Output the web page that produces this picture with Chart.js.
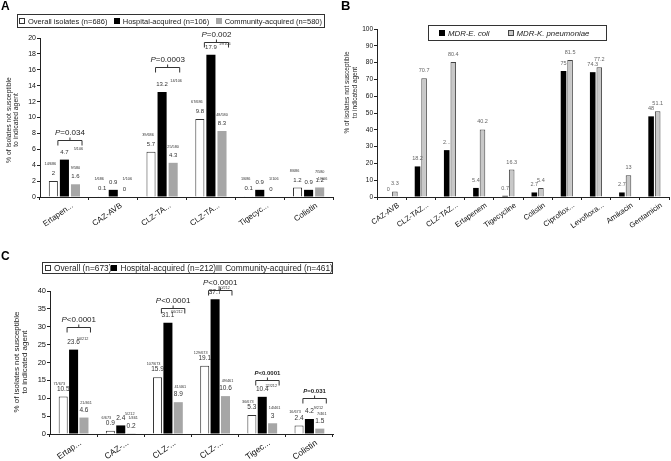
<!DOCTYPE html>
<html>
<head>
<meta charset="utf-8">
<script src="https://cdn.jsdelivr.net/npm/chart.js@4.4.1/dist/chart.umd.min.js"></script>
<style>
  body { margin: 0; background: #fff; }
  #fig { position: relative; width: 671px; height: 461px; overflow: hidden; background: #fff;
         font-family: 'Liberation Sans', Arial, sans-serif; color: #222; }
  #fig canvas, .tag, .key { position: absolute; }
  .tag { font-weight: bold; font-size: 12px; line-height: 12px; color: #000; will-change: transform; }
  .key { box-sizing: border-box; border: 1px solid #333; background: #fff; display: flex;
         align-items: center; white-space: nowrap; will-change: transform; }
  .item { display: inline-flex; align-items: center; }
  .sw { display: inline-block; width: 6px; height: 6px; margin-right: 3px; box-sizing: border-box; }
</style>
</head>
<body>
<div id="fig">
  <div class="tag" style="left:1px;top:0">A</div>
  <div class="tag" style="left:341px;top:0;font-size:13px">B</div>
  <div class="tag" style="left:1px;top:250px">C</div>

  <canvas id="chartA" width="340" height="222" style="left:0;top:28px"></canvas>
  <canvas id="chartB" width="333" height="250" style="left:338px;top:0"></canvas>
  <canvas id="chartC" width="340" height="186" style="left:0;top:275px"></canvas>

  <div class="key" style="left:17px;top:14px;width:308px;height:14px;font-size:7.5px;justify-content:space-between;padding:0 2px 0 1px">
    <span class="item"><span class="sw" style="background:#fff;border:1px solid #333"></span>Overall isolates (n=686)</span>
    <span class="item"><span class="sw" style="background:#000"></span>Hospital-acquired (n=106)</span>
    <span class="item"><span class="sw" style="background:#a6a6a6"></span>Community-acquired (n=580)</span>
  </div>
  <div class="key" style="left:428px;top:25px;width:179px;height:16px;font-size:7.8px;font-style:italic;padding-left:10px">
    <span class="item" style="margin-right:18px"><span class="sw" style="background:#000"></span>MDR-E. coli</span>
    <span class="item"><span class="sw" style="background:#c8c8c8;border:1px solid #444"></span>MDR-K. pneumoniae</span>
  </div>
  <div class="key" style="left:42px;top:262px;width:291px;height:12px;font-size:8.3px;justify-content:space-between;padding:0 2px">
    <span class="item"><span class="sw" style="background:#fff;border:1px solid #333"></span>Overall (n=673)</span>
    <span class="item"><span class="sw" style="background:#000"></span>Hospital-acquired (n=212)</span>
    <span class="item"><span class="sw" style="background:#a6a6a6"></span>Community-acquired (n=461)</span>
  </div>
</div>

<script>
// ---- panel A: E. coli / K. pneumoniae isolates
const aAgents = ['Ertapen...', 'CAZ-AVB', 'CLZ-TA...', 'CLZ-TA...', 'Tigecyc...', 'Colistin'];
const aOverall = [2, 0.1, 5.7, 9.8, 0.1, 1.2];
const aHospital = [4.7, 0.9, 13.2, 17.9, 0.9, 0.9];
const aCommunity = [1.6, 0, 4.3, 8.3, 0, 1.2];
const aOverallN = ['14/686', '1/686', '39/686', '67/686', '1/686', '8/686'];
const aHospitalN = ['5/106', '1/106', '14/106', '19/106', '1/106', '1/106'];
const aCommunityN = ['9/580', '', '25/580', '48/580', '', '7/580'];
const aPText = ['P=0.034', '', 'P=0.0003', 'P=0.002', '', ''];

// ---- panel B: MDR isolates
const bAgents = ['CAZ-AVB', 'CLZ-TAZ...', 'CLZ-TAZ...', 'Ertapenem', 'Tigecycline', 'Colistin',
                 'Ciproflox...', 'Levofloxa...', 'Amikacin', 'Gentamicin'];
const bEcoli = [0, 18.2, 27.9, 5.4, 0.7, 2.7, 75, 74.3, 2.7, 48];
const bKpneu = [3.3, 70.7, 80.4, 40.2, 16.3, 5.4, 81.5, 77.2, 13, 51.1];
const bEcoliText = ['0', '18.2', '2...', '5.4', '0.7', '2.7', '75', '74.3', '2.7', '48'];

// ---- panel C
const cAgents = ['Ertap...', 'CAZ-...', 'CLZ-...', 'CLZ-...', 'Tigec...', 'Colistin'];
const cOverall = [10.5, 0.9, 15.9, 19.1, 5.3, 2.4];
const cHospital = [23.6, 2.4, 31.1, 37.7, 10.4, 4.2];
const cCommunity = [4.6, 0.2, 8.9, 10.6, 3, 1.5];
const cOverallN = ['71/673', '6/673', '107/673', '129/673', '36/673', '16/673'];
const cHospitalN = ['50/212', '5/212', '66/212', '80/212', '22/212', '9/212'];
const cCommunityN = ['21/461', '1/461', '41/461', '49/461', '14/461', '7/461'];
const cPText = ['P<0.0001', '', 'P<0.0001', 'P<0.0001', 'P<0.0001', 'P=0.031'];

const yTitle = ['% of isolates not susceptible', 'to indicated agent'];

const FONT = "'Liberation Sans', Arial, sans-serif";
Chart.defaults.font.family = FONT;
Chart.defaults.color = '#111';

function axisX(size, height, offset) {
  return {
    grid: { drawOnChartArea: false, tickLength: 3, color: '#222', offset: true },
    border: { color: '#222', width: 1 },
    ticks: { autoSkip: false, minRotation: 35, maxRotation: 35, padding: 1, labelOffset: offset,
             font: { size: size }, color: '#111' },
    afterFit: s => { s.height = height; }
  };
}

function axisY(max, step, size, width) {
  return {
    min: 0, max: max,
    grid: { drawOnChartArea: false, tickLength: 3, color: '#222' },
    border: { color: '#222', width: 1 },
    ticks: { stepSize: step, padding: 1, font: { size: size }, color: '#111' },
    afterFit: s => { s.width = width; }
  };
}

// italic P followed by the rest of the p-value
function drawP(ctx, text, cx, cy, size, bold) {
  const w = bold ? 'bold ' : '';
  const fI = 'italic ' + w + size + 'px ' + FONT;
  const fN = w + size + 'px ' + FONT;
  ctx.font = fI;
  const wp = ctx.measureText('P').width;
  ctx.font = fN;
  const wr = ctx.measureText(text.slice(1)).width;
  const x = cx - (wp + wr) / 2;
  ctx.textAlign = 'left';
  ctx.font = fI;
  ctx.fillText('P', x, cy);
  ctx.font = fN;
  ctx.fillText(text.slice(1), x + wp, cy);
}

function makeNotes(cfg) {
  return {
    id: 'notes',
    afterDatasetsDraw(chart) {
      const ctx = chart.ctx;
      const yScale = chart.scales.y;
      ctx.save();
      ctx.textBaseline = 'middle';

      chart.data.datasets.forEach((ds, di) => {
        chart.getDatasetMeta(di).data.forEach((bar, i) => {
          ctx.textAlign = 'center';
          ctx.fillStyle = cfg.valueColor;
          ctx.font = cfg.valueSize + 'px ' + FONT;
          const txt = cfg.valueText && cfg.valueText[di] ? cfg.valueText[di][i] : String(ds.data[i]);
          ctx.fillText(txt, bar.x, bar.y - 7.5);
          if (cfg.fractions && cfg.fractions[di][i]) {
            const off = cfg.fracOffset[di];
            ctx.font = cfg.fracSize + 'px ' + FONT;
            ctx.fillText(cfg.fractions[di][i], bar.x + off[0], bar.y + off[1]);
          }
        });
      });

      if (cfg.pText) {
        const hosp = chart.getDatasetMeta(1).data;
        const comm = chart.getDatasetMeta(2).data;
        cfg.pText.forEach((t, i) => {
          if (!t) return;
          const x1 = hosp[i].x - hosp[i].width / 2 - 2;
          const x2 = comm[i].x + comm[i].width / 2 + 2;
          const xm = (x1 + x2) / 2;
          const yb = Math.round(yScale.getPixelForValue(cfg.pAt[i])) + 0.5;
          const yt = yb - 5;
          ctx.strokeStyle = '#333';
          ctx.lineWidth = 1;
          ctx.beginPath();
          ctx.moveTo(x1, yb); ctx.lineTo(x1, yt); ctx.lineTo(x2, yt); ctx.lineTo(x2, yb);
          ctx.moveTo(xm, yt); ctx.lineTo(xm, yt - 3);
          ctx.stroke();
          const bold = cfg.pBold && cfg.pBold[i];
          const size = bold ? cfg.pBoldSize : cfg.pSize;
          ctx.fillStyle = '#222';
          drawP(ctx, t, xm, yt - 4 - size / 2, size, bold);
        });
      }

      const tt = cfg.title;
      ctx.translate(tt.x, tt.y);
      ctx.rotate(-Math.PI / 2);
      ctx.textAlign = 'center';
      ctx.fillStyle = '#222';
      ctx.font = tt.size + 'px ' + FONT;
      tt.lines.forEach((l, k) => ctx.fillText(l, 0, k * tt.lh));
      ctx.restore();
    }
  };
}

// panel A
new Chart(document.getElementById('chartA'), {
  type: 'bar',
  data: {
    labels: aAgents,
    datasets: [
      { label: 'Overall isolates (n=686)', data: aOverall, backgroundColor: '#fff', borderColor: '#333', borderWidth: 1 },
      { label: 'Hospital-acquired (n=106)', data: aHospital, backgroundColor: '#000' },
      { label: 'Community-acquired (n=580)', data: aCommunity, backgroundColor: '#a6a6a6' }
    ]
  },
  options: {
    responsive: false,
    animation: false,
    layout: { padding: { top: 10, right: 7, left: 0, bottom: 0 } },
    datasets: { bar: { categoryPercentage: 0.68, barPercentage: 0.82 } },
    plugins: { legend: { display: false }, tooltip: { enabled: false } },
    scales: { x: axisX(8, 53, 8), y: axisY(20, 2, 7, 40) }
  },
  plugins: [makeNotes({
    valueSize: 6, valueColor: '#333',
    fractions: [aOverallN, aHospitalN, aCommunityN],
    fracOffset: [[-3, -17], [14, -11], [0, -16]], fracSize: 3.8,
    pText: aPText, pAt: [6.5, null, 15.7, 18.9, null, null], pSize: 8,
    title: { lines: yTitle, x: 9, y: 92, lh: 7, size: 6.8 }
  })]
});

// panel B
new Chart(document.getElementById('chartB'), {
  type: 'bar',
  data: {
    labels: bAgents,
    datasets: [
      { label: 'MDR-E. coli', data: bEcoli, backgroundColor: '#000' },
      { label: 'MDR-K. pneumoniae', data: bKpneu, backgroundColor: '#c8c8c8', borderColor: '#444', borderWidth: 1 }
    ]
  },
  options: {
    responsive: false,
    animation: false,
    layout: { padding: { top: 29, right: 2, left: 0, bottom: 0 } },
    datasets: { bar: { categoryPercentage: 0.45, barPercentage: 0.85 } },
    plugins: { legend: { display: false }, tooltip: { enabled: false } },
    scales: { x: axisX(7.5, 53, 7), y: axisY(100, 10, 6.5, 39) }
  },
  plugins: [makeNotes({
    valueSize: 5.5, valueColor: '#666',
    valueText: [bEcoliText, null],
    title: { lines: yTitle, x: 9.5, y: 92.5, lh: 7.5, size: 6.5 }
  })]
});

// panel C
new Chart(document.getElementById('chartC'), {
  type: 'bar',
  data: {
    labels: cAgents,
    datasets: [
      { label: 'Overall (n=673)', data: cOverall, backgroundColor: '#fff', borderColor: '#333', borderWidth: 1 },
      { label: 'Hospital-acquired (n=212)', data: cHospital, backgroundColor: '#000' },
      { label: 'Community-acquired (n=461)', data: cCommunity, backgroundColor: '#a6a6a6' }
    ]
  },
  options: {
    responsive: false,
    animation: false,
    layout: { padding: { top: 16, right: 7, left: 0, bottom: 0 } },
    datasets: { bar: { categoryPercentage: 0.66, barPercentage: 0.87 } },
    plugins: { legend: { display: false }, tooltip: { enabled: false } },
    scales: { x: axisX(8.5, 27, 7), y: axisY(40, 5, 7.5, 50) }
  },
  plugins: [makeNotes({
    valueSize: 6.5, valueColor: '#333',
    fractions: [cOverallN, cHospitalN, cCommunityN],
    fracOffset: [[-4, -13], [9, -11], [2, -15]], fracSize: 3.8,
    pText: cPText, pAt: [28.5, null, 33.8, 38.9, 13.7, 8.7], pSize: 8,
    pBold: [false, false, false, false, true, true], pBoldSize: 6,
    title: { lines: yTitle, x: 16.5, y: 87, lh: 8, size: 8 }
  })]
});
</script>
</body>
</html>
